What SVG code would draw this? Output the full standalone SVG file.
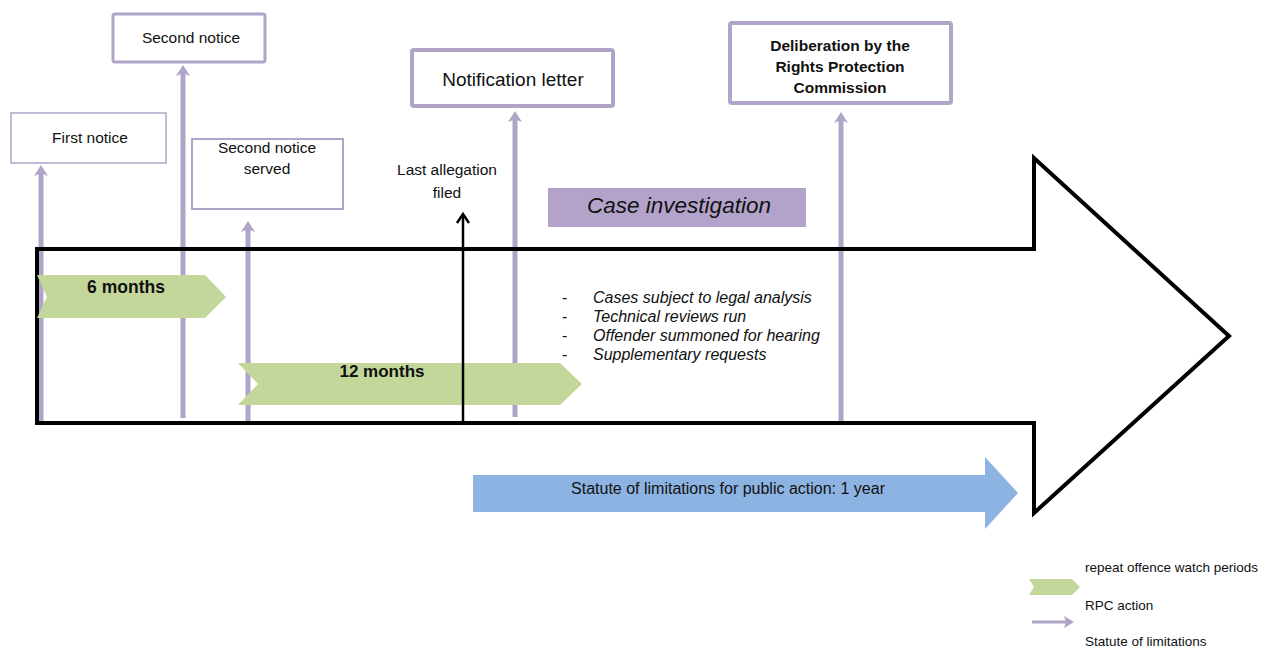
<svg xmlns="http://www.w3.org/2000/svg" width="1272" height="651" viewBox="0 0 1272 651">
<style>
.lbl{font-family:"Liberation Sans",Arial,sans-serif;fill:#111;}
.box{fill:#fff;stroke:#b0a5c8;}
.pl{stroke:#b0a5c8;stroke-width:5;fill:none;}
.ph{fill:#b0a5c8;}
.green{fill:#c4d79b;}
.it{font-family:"Liberation Sans",Arial,sans-serif;font-style:italic;fill:#111;}
.bd{font-family:"Liberation Sans",Arial,sans-serif;font-weight:bold;fill:#111;}
</style>
<defs>
<path id="ahead" d="M0,-11 L7,0 L2,-2 L2,0 L-2,0 L-2,-2 L-7,0 Z" class="ph"/>
</defs>
<rect width="1272" height="651" fill="#fff"/>

<g id="timeline-fill">
<polygon points="37,249 1034,249 1034,158 1229,336 1034,513 1034,423 37,423" fill="#fff"/>
</g>

<g id="connectors">
<line class="pl" x1="41" y1="424" x2="41" y2="170"/>
<use href="#ahead" x="41" y="176"/>
<line class="pl" x1="183" y1="418" x2="183" y2="70"/>
<use href="#ahead" x="183" y="76"/>
<line class="pl" x1="248" y1="421" x2="248" y2="226"/>
<use href="#ahead" x="248" y="232"/>
<line class="pl" x1="515" y1="417" x2="515" y2="116"/>
<use href="#ahead" x="515" y="122"/>
<line class="pl" x1="841" y1="423" x2="841" y2="117"/>
<use href="#ahead" x="841" y="123"/>
</g>

<g id="timeline">
<polygon points="37,249 1034,249 1034,158 1229,336 1034,513 1034,423 37,423" fill="none" stroke="#000" stroke-width="4" stroke-linejoin="miter"/>
</g>

<g id="period-6-months">
<polygon class="green" points="37,275 205,275 226,297 205,318 37,318 47,297"/>
<text class="bd" x="126" y="293" font-size="17.5" text-anchor="middle">6 months</text>
</g>
<g id="period-12-months">
<polygon class="green" points="238,363 560,363 582,384 560,405 238,405 258,384"/>
<text class="bd" x="382" y="377" font-size="17" text-anchor="middle">12 months</text>
</g>

<g id="last-allegation">
<line x1="463" y1="423" x2="463" y2="216" stroke="#000" stroke-width="2.5"/>
<polyline points="457,223 463,214 469,223" fill="none" stroke="#000" stroke-width="2.5"/>
<text class="lbl" x="447" y="175" font-size="15.5" text-anchor="middle">Last allegation</text>
<text class="lbl" x="447" y="198" font-size="15.5" text-anchor="middle">filed</text>
</g>

<g id="first-notice">
<rect class="box" x="11" y="113" width="155" height="50" stroke-width="1.5"/>
<text class="lbl" x="90" y="143" font-size="15.5" text-anchor="middle">First notice</text>
</g>
<g id="second-notice">
<rect class="box" x="113" y="14" width="152" height="48" rx="2" stroke-width="3"/>
<text class="lbl" x="191" y="43" font-size="15.5" text-anchor="middle">Second notice</text>
</g>
<g id="second-notice-served">
<rect class="box" x="192" y="139" width="151" height="70" stroke-width="2"/>
<text class="lbl" x="267" y="153" font-size="15.5" text-anchor="middle">Second notice</text>
<text class="lbl" x="267" y="174" font-size="15.5" text-anchor="middle">served</text>
</g>
<g id="notification-letter">
<rect class="box" x="412" y="50" width="201" height="56" rx="2" stroke-width="4"/>
<text class="lbl" x="513" y="86" font-size="19" text-anchor="middle">Notification letter</text>
</g>
<g id="deliberation">
<rect class="box" x="730" y="23" width="221" height="80" rx="2" stroke-width="4"/>
<text class="bd" x="840" y="51" font-size="15.5" text-anchor="middle">Deliberation by the</text>
<text class="bd" x="840" y="72" font-size="15.5" text-anchor="middle">Rights Protection</text>
<text class="bd" x="840" y="93" font-size="15.5" text-anchor="middle">Commission</text>
</g>

<g id="case-investigation">
<rect x="548" y="188" width="258" height="39" fill="#b3a3cb"/>
<text class="it" x="679" y="213" font-size="22.5" text-anchor="middle">Case investigation</text>
</g>

<g id="tasks" font-size="16">
<text class="lbl" x="562" y="303">-</text>
<text class="it" x="593" y="303">Cases subject to legal analysis</text>
<text class="lbl" x="562" y="322">-</text>
<text class="it" x="593" y="322">Technical reviews run</text>
<text class="lbl" x="562" y="341">-</text>
<text class="it" x="593" y="341">Offender summoned for hearing</text>
<text class="lbl" x="562" y="360">-</text>
<text class="it" x="593" y="360">Supplementary requests</text>
</g>

<g id="statute-of-limitations">
<polygon points="473,475 985,475 985,457 1018,493 985,529 985,512 473,512" fill="#8db3e2"/>
<text class="lbl" x="728" y="494" font-size="16" text-anchor="middle">Statute of limitations for public action: 1 year</text>
</g>

<g id="legend">
<polygon class="green" points="1029,579 1072,579 1080,587 1072,595 1029,595 1034,587"/>
<text class="lbl" x="1085" y="572" font-size="13.5">repeat offence watch periods</text>
<text class="lbl" x="1085" y="610" font-size="13.5">RPC action</text>
<line x1="1032" y1="622" x2="1066" y2="622" stroke="#b0a5c8" stroke-width="3"/>
<polygon points="1074,622 1064,616 1066,622 1064,628" fill="#b0a5c8"/>
<text class="lbl" x="1085" y="646" font-size="13.5">Statute of limitations</text>
</g>
</svg>
